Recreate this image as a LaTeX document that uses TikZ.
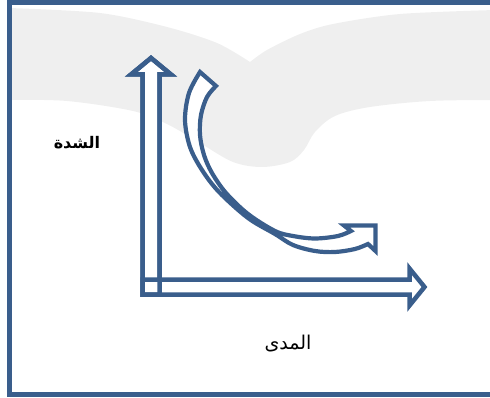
\documentclass[tikz,border=0pt]{standalone}
\usepackage{fontspec}
\TeXXeTstate=1
\newfontfamily\arabicfont[Script=Arabic]{DejaVu Sans}
\definecolor{axisblue}{RGB}{58,94,140}
\definecolor{cloudgray}{RGB}{239,239,239}

\begin{document}
\begin{tikzpicture}[
  x=1pt, y=-1pt,
  frame/.style={draw=axisblue, line width=4.5pt},
  cloud/.style={fill=cloudgray},
  axis/.style={draw=axisblue, line width=4.5pt, fill=white, line join=miter},
  curvearrow/.style={draw=axisblue, line width=4.2pt, fill=white, line join=miter},
  label/.style={font=\arabicfont\fontsize{19}{22}\selectfont, text=black, inner sep=0pt}
]
\useasboundingbox (0,0) rectangle (490,398);
\clip (0,0) rectangle (490,398);

\fill[cloud] plot[smooth, tension=0.5] coordinates {(9,8) (100,13) (167,27) (217,43) (250,62)}
  -- plot[smooth, tension=0.5] coordinates {(250,62) (267,50) (300,34) (333,24) (400,14) (495,10)}
  -- (495,100)
  -- plot[smooth, tension=0.55] coordinates {(495,100) (430,101) (370,107) (335,116) (315,132) (304,150) (290,162) (262,167) (233,162) (200,143) (167,124) (133,111) (67,101) (9,100)}
  -- cycle;

\draw[frame] (9.5,2.5) rectangle (500,394.5);

\filldraw[curvearrow] plot[smooth, tension=0.55] coordinates {(200,72) (189,93) (185,120) (190,147) (202,170) (219,192) (248,218) (275,234) (293,245) (315,251) (335,252) (355,249) (368,244)}
  -- (375.5,251) -- (375.5,225.5) -- (344,225.5)
  -- plot[smooth, tension=0.55] coordinates {(351,231) (338,236) (315,238.5) (293,236) (275,231) (248,214) (226,193) (212,173) (204,155) (200,135) (201,115) (207,97) (216,86)}
  -- cycle;

\filldraw[axis] (142.5,294.5) -- (142.5,74.5) -- (131,74.5) -- (151,58) -- (171,74.5) -- (159.5,74.5) -- (159.5,294.5) -- cycle;
\filldraw[axis] (142.5,279.5) -- (409.5,279.5) -- (409.5,268.5) -- (424.5,287) -- (409.5,305.5) -- (409.5,294.5) -- (142.5,294.5) -- cycle;
\draw[axis, fill=none] (142.5,294.5) -- (142.5,74.5) -- (131,74.5) -- (151,58) -- (171,74.5) -- (159.5,74.5) -- (159.5,294.5) -- cycle;

\node[label, font=\arabicfont\bfseries\fontsize{16}{19}\selectfont] (intensity) at (77,143) {\beginR الشدة\endR};
\node[label] (range) at (288,344) {\beginR المدى\endR};
\end{tikzpicture}
\end{document}
